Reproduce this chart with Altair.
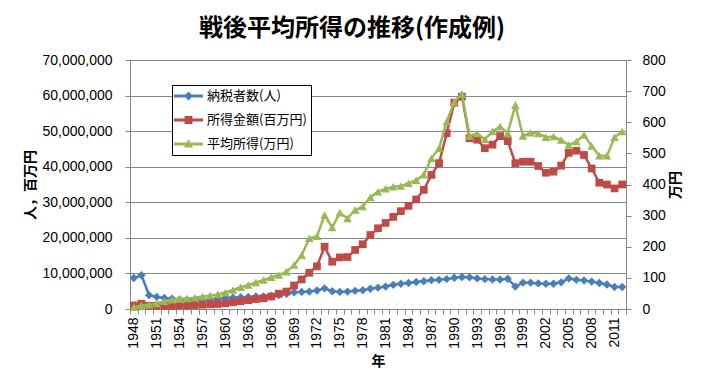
import altair as alt
import pandas as pd

# ---- data ----
years = list(range(1948, 2013))

taxpayers = [  # 納税者数(人)
    8700000, 9500000, 3900000, 3400000, 3100000, 2900000, 2700000, 2600000, 2600000, 2700000,
    2700000, 2900000, 3100000, 3200000, 3300000, 3400000, 3500000, 3500000, 3700000, 3900000,
    4300000, 4700000, 4800000, 4900000, 5200000, 5800000, 5000000, 4800000, 4900000, 5100000,
    5300000, 5700000, 6000000, 6300000, 6800000, 7100000, 7300000, 7600000, 7800000, 8100000,
    8200000, 8400000, 8800000, 9000000, 8900000, 8600000, 8400000, 8300000, 8300000, 8500000,
    6300000, 7400000, 7400000, 7200000, 7100000, 7100000, 7500000, 8600000, 8200000, 8000000,
    7700000, 7300000, 6900000, 6200000, 6200000,
]

income = [  # 所得金額(百万円)
    1000000, 1500000, 900000, 900000, 900000, 900000, 1000000, 1000000, 1100000, 1200000,
    1300000, 1400000, 1600000, 1900000, 2200000, 2500000, 2800000, 3000000, 3500000, 4300000,
    4900000, 6600000, 8300000, 10200000, 12000000, 17500000, 13300000, 14500000, 14600000, 16600000,
    18200000, 20800000, 22700000, 24200000, 25900000, 27500000, 29000000, 30800000, 33500000, 37700000,
    41000000, 49400000, 58000000, 59700000, 48000000, 47600000, 45200000, 46200000, 48600000, 47200000,
    41000000, 41400000, 41400000, 40200000, 38300000, 38600000, 40300000, 43900000, 44500000, 43300000,
    39500000, 35500000, 35000000, 33900000, 35000000,
]

avg_income = [  # 平均所得(万円)
    6, 11, 14, 18, 25, 30, 32, 34, 36, 40,
    43, 47, 53, 61, 70, 77, 85, 93, 102, 109,
    120, 141, 173, 227, 234, 302, 262, 309, 291, 318,
    329, 359, 377, 386, 393, 395, 404, 414, 431, 484,
    516, 602, 666, 691, 556, 564, 545, 570, 586, 565,
    655, 556, 566, 564, 552, 554, 543, 527, 538, 559,
    524, 492, 492, 552, 570,
]

series_names = ["納税者数(人)", "所得金額(百万円)", "平均所得(万円)"]
series_colors = ["#4A7EBB", "#BE4B48", "#98B954"]

left_ticks = [0, 10000000, 20000000, 30000000, 40000000, 50000000, 60000000, 70000000]
right_ticks = [0, 100, 200, 300, 400, 500, 600, 700, 800]

df = pd.DataFrame({"year": years, "taxpayers": taxpayers, "income": income, "avg": avg_income})
legend_df = pd.DataFrame({"series": series_names})

# legend symbols: line with marker (unit = 7px for symbolSize 196)
LINE = "M-1.29,-0.2H2.86V0.2H-1.29Z "
legend_paths = [
    LINE + "M0.79,-0.64L1.43,0L0.79,0.64L0.15,0Z",
    LINE + "M0.22,-0.57H1.36V0.57H0.22Z",
    LINE + "M0.79,-0.71L1.43,0.5H0.15Z",
]

JP = "Noto Sans CJK JP"
NUM = "Liberation Sans"
GRAY = "#868686"

x_axis = alt.Axis(
    title="年", titleFont=JP, titleFontSize=14, titleFontWeight="bold",
    titleY=52, titleBaseline="middle",
    labelAngle=270, labelExpr="(datum.value - 1948) % 3 == 0 ? datum.label : ''",
    labelOverlap=False, labelPadding=3, tickSize=5, tickBand="extent",
    labelFont=NUM, labelFontSize=14, grid=False,
)
x_enc = alt.X(
    "year:O",
    scale=alt.Scale(type="band", paddingInner=0, paddingOuter=0),
    bandPosition=0.5,
    axis=x_axis,
)

left_axis = alt.Axis(
    title="人，百万円", titleFont=JP, titleFontSize=14, titleFontWeight="bold",
    titleAngle=270, titleX=-100, titleY=124.5, titleAlign="center", titleBaseline="middle",
    values=left_ticks, format=",.0f", grid=True, tickSize=5, labelPadding=13,
    labelFont=NUM, labelFontSize=14,
)
right_axis = alt.Axis(
    title="万円", titleFont=JP, titleFontSize=14, titleFontWeight="bold",
    titleAngle=270, titleX=49, titleY=124.5, titleAlign="center", titleBaseline="middle",
    orient="right", values=right_ticks, format="d", grid=False, tickSize=5, labelPadding=11,
    labelFont=NUM, labelFontSize=14,
)

base = alt.Chart(df)
y_tax = alt.Y("taxpayers:Q", scale=alt.Scale(domain=[0, 70000000]), axis=left_axis)
y_inc = alt.Y("income:Q", scale=alt.Scale(domain=[0, 70000000]), axis=left_axis)
y_avg = alt.Y("avg:Q", scale=alt.Scale(domain=[0, 800]), axis=right_axis)

blue_line = base.mark_line(color=series_colors[0], strokeWidth=2.5).encode(x=x_enc, y=y_tax)
blue_pts = base.mark_point(shape="diamond", filled=True, size=70, color=series_colors[0], opacity=1).encode(x=x_enc, y=y_tax)
red_line = base.mark_line(color=series_colors[1], strokeWidth=2.5).encode(x=x_enc, y=y_inc)
red_pts = base.mark_point(shape="square", filled=True, size=60, color=series_colors[1], opacity=1).encode(x=x_enc, y=y_inc)
green_line = base.mark_line(color=series_colors[2], strokeWidth=2.5).encode(x=x_enc, y=y_avg)
green_pts = base.mark_point(shape="triangle-up", filled=True, size=75, color=series_colors[2], opacity=1).encode(x=x_enc, y=y_avg)

leg = alt.Legend(
    orient="none", legendX=42, legendY=25, title=None, direction="vertical",
    symbolSize=196, symbolStrokeWidth=0, symbolOpacity=1,
    labelFont=JP, labelFontSize=13, labelColor="black", labelOffset=17, labelLimit=300,
    rowPadding=10, padding=4, strokeColor="black", fillColor="white",
)
legend_layer = (
    alt.Chart(legend_df)
    .transform_filter("false")
    .mark_point(filled=True, opacity=1)
    .encode(
        color=alt.Color("series:N", scale=alt.Scale(domain=series_names, range=series_colors), legend=leg),
        shape=alt.Shape("series:N", scale=alt.Scale(domain=series_names, range=legend_paths), legend=leg),
    )
)

left = alt.layer(blue_line, blue_pts, red_line, red_pts)
right = alt.layer(green_line, green_pts, legend_layer)

chart = (
    alt.layer(left, right)
    .resolve_scale(y="independent")
    .properties(
        width=496, height=249,
        title=alt.TitleParams(
            text="戦後平均所得の推移(作成例)", font=JP, fontSize=24, fontWeight="bold",
            color="black", anchor="middle", dx=-26, offset=12,
        ),
        autosize=alt.AutoSizeParams(type="none"),
        padding={"left": 122, "top": 52, "right": 62, "bottom": 70},
        background="white",
    )
    .configure_view(strokeWidth=0)
    .configure_axis(
        labelColor="black", titleColor="black",
        domainColor=GRAY, tickColor=GRAY, gridColor=GRAY, gridWidth=1, domainWidth=1,
    )
)

chart.save("out.html", embed_options={"renderer": "svg", "actions": False})
